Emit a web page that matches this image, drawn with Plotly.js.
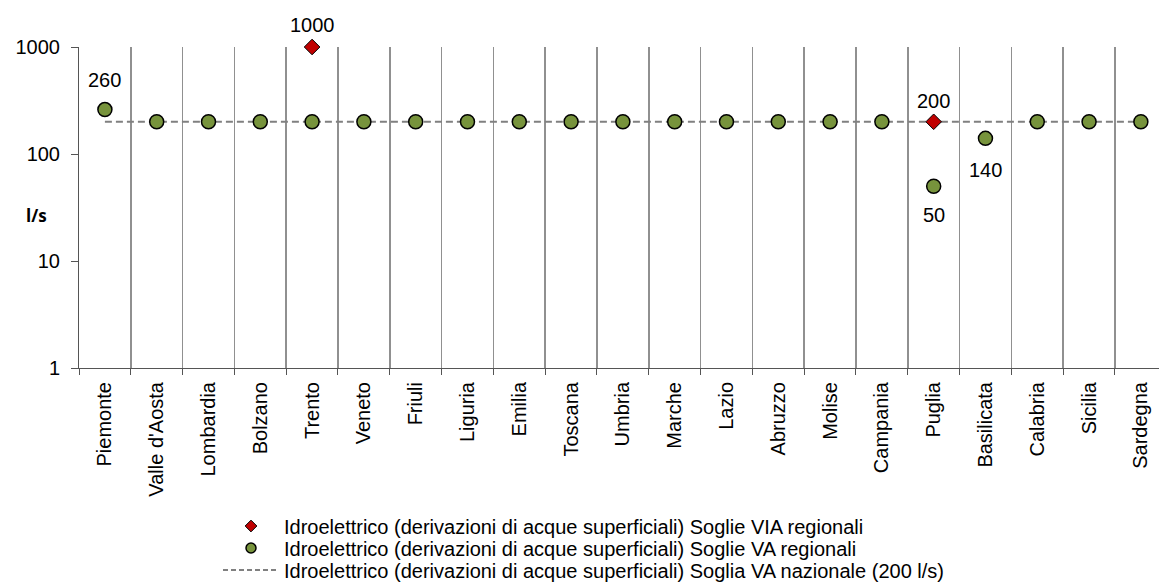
<!DOCTYPE html>
<html>
<head>
<meta charset="utf-8">
<script src="https://cdn.plot.ly/plotly-3.0.1.min.js"></script>
<style>html,body{margin:0;padding:0;background:#fff;}#chart{width:1159px;height:588px;}</style>
</head>
<body>
<div id="chart"></div>
<script>
const regions = ["Piemonte","Valle d'Aosta","Lombardia","Bolzano","Trento","Veneto","Friuli","Liguria","Emilia","Toscana","Umbria","Marche","Lazio","Abruzzo","Molise","Campania","Puglia","Basilicata","Calabria","Sicilia","Sardegna"];
const sogliaVIA = [null,null,null,null,1000,null,null,null,null,null,null,null,null,null,null,null,200,null,null,null,null];
const sogliaVA = [260,200,200,200,200,200,200,200,200,200,200,200,200,200,200,200,50,140,200,200,200];
const sogliaNazionale = [200,200,200,200,200,200,200,200,200,200,200,200,200,200,200,200,200,200,200,200,200];
const labelRegions = ["Piemonte","Trento","Puglia","Puglia","Basilicata"];
const labelValues = [260,1000,200,50,140];
const yTicks = [1,10,100,1000];

const FONT = "Liberation Sans, Arial, sans-serif";
const nameVIA = "Idroelettrico (derivazioni di acque superficiali) Soglie VIA regionali";
const nameVA = "Idroelettrico (derivazioni di acque superficiali) Soglie VA regionali";
const nameNaz = "Idroelettrico (derivazioni di acque superficiali) Soglia VA nazionale (200 l/s)";

const traces = [
  {
    x: regions, y: sogliaNazionale, type: "scatter", mode: "lines",
    name: nameNaz, showlegend: false, cliponaxis: false,
    line: {color: "#808080", width: 2, dash: "7px,4px"}
  },
  {
    x: regions, y: sogliaVA, type: "scatter", mode: "markers",
    name: nameVA, showlegend: false, cliponaxis: false,
    marker: {symbol: "circle", size: 14, color: "#77933C", line: {color: "#000", width: 1.5}}
  },
  {
    x: regions, y: sogliaVIA, type: "scatter", mode: "markers",
    name: nameVIA, showlegend: false, cliponaxis: false,
    marker: {symbol: "diamond", size: 12, color: "#C00000", line: {color: "#000", width: 1}}
  },
  // legend entries (smaller symbols, as in the reference legend)
  {
    x: [null], y: [null], type: "scatter", mode: "markers", name: nameVIA, legend: "legend",
    marker: {symbol: "diamond", size: 9, color: "#C00000", line: {color: "#000", width: 1}}
  },
  {
    x: [null], y: [null], type: "scatter", mode: "markers", name: nameVA, legend: "legend2",
    marker: {symbol: "circle", size: 10, color: "#77933C", line: {color: "#000", width: 1.5}}
  },
  {
    x: [null], y: [null], type: "scatter", mode: "lines", name: nameNaz, legend: "legend3",
    line: {color: "#808080", width: 2, dash: "5px,3px"}
  }
];

const shifts = [30, 22, 21, -29, -32];
const annotations = labelRegions.map((r, i) => ({
  x: r, y: Math.log10(labelValues[i]), xref: "x", yref: "y",
  text: String(labelValues[i]), showarrow: false,
  yshift: shifts[i],
  font: {family: FONT, size: 20, color: "#000"}
}));
annotations.push({
  xref: "paper", yref: "paper", x: -0.039, y: 0.475, xanchor: "center", yanchor: "middle",
  text: "<b>l/s</b>", showarrow: false,
  font: {family: "Open Sans, Liberation Sans, sans-serif", size: 17, color: "#000"}
});

function legendAt(yPix) {
  return {
    x: 218/1159, y: 1 - yPix/588, xref: "container", yref: "container",
    xanchor: "left", yanchor: "middle", itemwidth: 56,
    font: {family: FONT, size: 20, color: "#000"},
    bgcolor: "rgba(0,0,0,0)", borderwidth: 0
  };
}

const layout = {
  width: 1159, height: 588,
  margin: {l: 79, r: 0, t: 47, b: 220, pad: 0, autoexpand: false},
  paper_bgcolor: "#fff", plot_bgcolor: "#fff",
  showlegend: true,
  legend: legendAt(526),
  legend2: legendAt(548),
  legend3: legendAt(570),
  xaxis: {
    type: "category", categoryorder: "array", categoryarray: regions,
    range: [-0.5, 20.35], automargin: false,
    tickmode: "array", tickvals: regions, ticktext: regions,
    tickson: "boundaries", ticks: "outside", ticklen: 6, tickcolor: "#555", tickwidth: 1,
    ticklabelstandoff: 5,
    showgrid: true, gridcolor: "#909090", gridwidth: 1.5,
    showline: true, linecolor: "#555", linewidth: 1,
    tickangle: -90, tickfont: {family: FONT, size: 20, color: "#000"},
    zeroline: false, fixedrange: true
  },
  yaxis: {
    type: "log", range: [0, 3], automargin: false,
    tickmode: "array", tickvals: yTicks, ticktext: yTicks.map(String),
    ticks: "outside", ticklen: 7, tickcolor: "#555", tickwidth: 1,
    ticklabelstandoff: 7,
    showgrid: false, showline: true, linecolor: "#555", linewidth: 1,
    tickfont: {family: FONT, size: 20, color: "#000"},
    zeroline: false, fixedrange: true
  },
  annotations: annotations
};

Plotly.newPlot("chart", traces, layout, {displayModeBar: false, staticPlot: true});
</script>
</body>
</html>
